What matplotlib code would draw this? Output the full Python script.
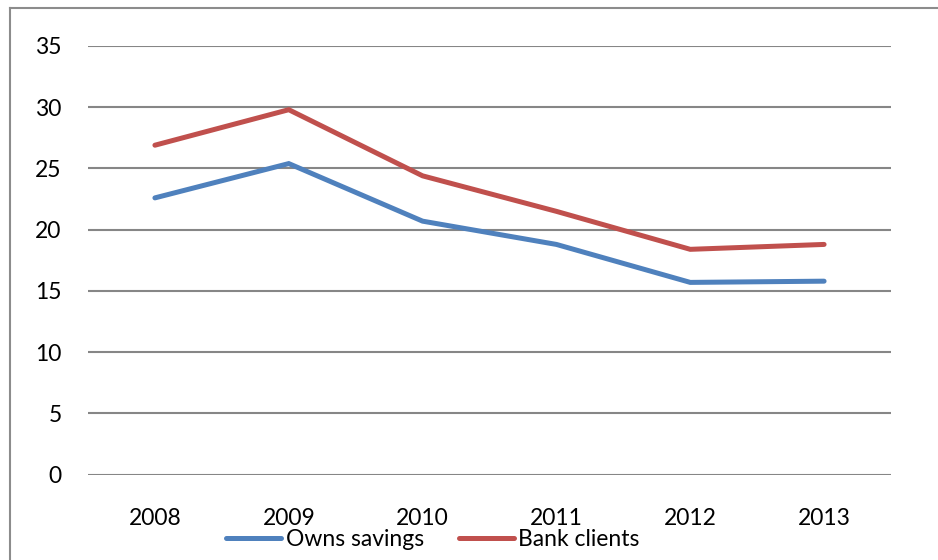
import matplotlib
matplotlib.use("Agg")
import matplotlib.pyplot as plt
from matplotlib.lines import Line2D

years = ["2008", "2009", "2010", "2011", "2012", "2013"]
owns_savings = [22.6, 25.4, 20.7, 18.8, 15.7, 15.8]
bank_clients = [26.9, 29.8, 24.4, 21.5, 18.4, 18.8]
y_ticks = [0, 5, 10, 15, 20, 25, 30, 35]

W, H = 938, 560
plt.rcParams["font.family"] = ["Lato", "DejaVu Sans"]

fig = plt.figure(figsize=(W / 100, H / 100), dpi=100)
ax = fig.add_axes([88 / W, (H - 474.7) / H, (891 - 88) / W, (474.7 - 46) / H])

x = list(range(len(years)))
ax.plot(x, owns_savings, color="#4F81BD", linewidth=3.6, label="Owns savings",
        solid_capstyle="round", solid_joinstyle="miter")
ax.plot(x, bank_clients, color="#C0504D", linewidth=3.6, label="Bank clients",
        solid_capstyle="round", solid_joinstyle="miter")

ax.set_xlim(-0.5, len(years) - 0.5)
ax.set_ylim(0, 35)
ax.set_yticks(y_ticks)
ax.set_xticks(x)
ax.set_xticklabels(years)
ax.yaxis.grid(True, color="#868686", linewidth=1.5)
ax.set_axisbelow(True)
for s in ax.spines.values():
    s.set_visible(False)
ax.tick_params(axis="y", length=0, pad=19, labelsize=16.5)
ax.tick_params(axis="x", length=0, pad=24, labelsize=16.5)

leg = fig.legend(loc="center", bbox_to_anchor=(433 / W, 1 - 540 / H),
                 ncol=2, frameon=False, fontsize=16.5, handlelength=2.4,
                 handletextpad=0.2, columnspacing=1.5, borderpad=0)

# outer chart frame (runs off the right and bottom edges)
fig.add_artist(Line2D([10 / W, 10 / W], [0, 1 - 8 / H], transform=fig.transFigure,
                      color="#8c8c8c", linewidth=1.5))
fig.add_artist(Line2D([10 / W, 1], [1 - 8 / H, 1 - 8 / H], transform=fig.transFigure,
                      color="#8c8c8c", linewidth=1.5))

fig.savefig("out.png", dpi=100)
